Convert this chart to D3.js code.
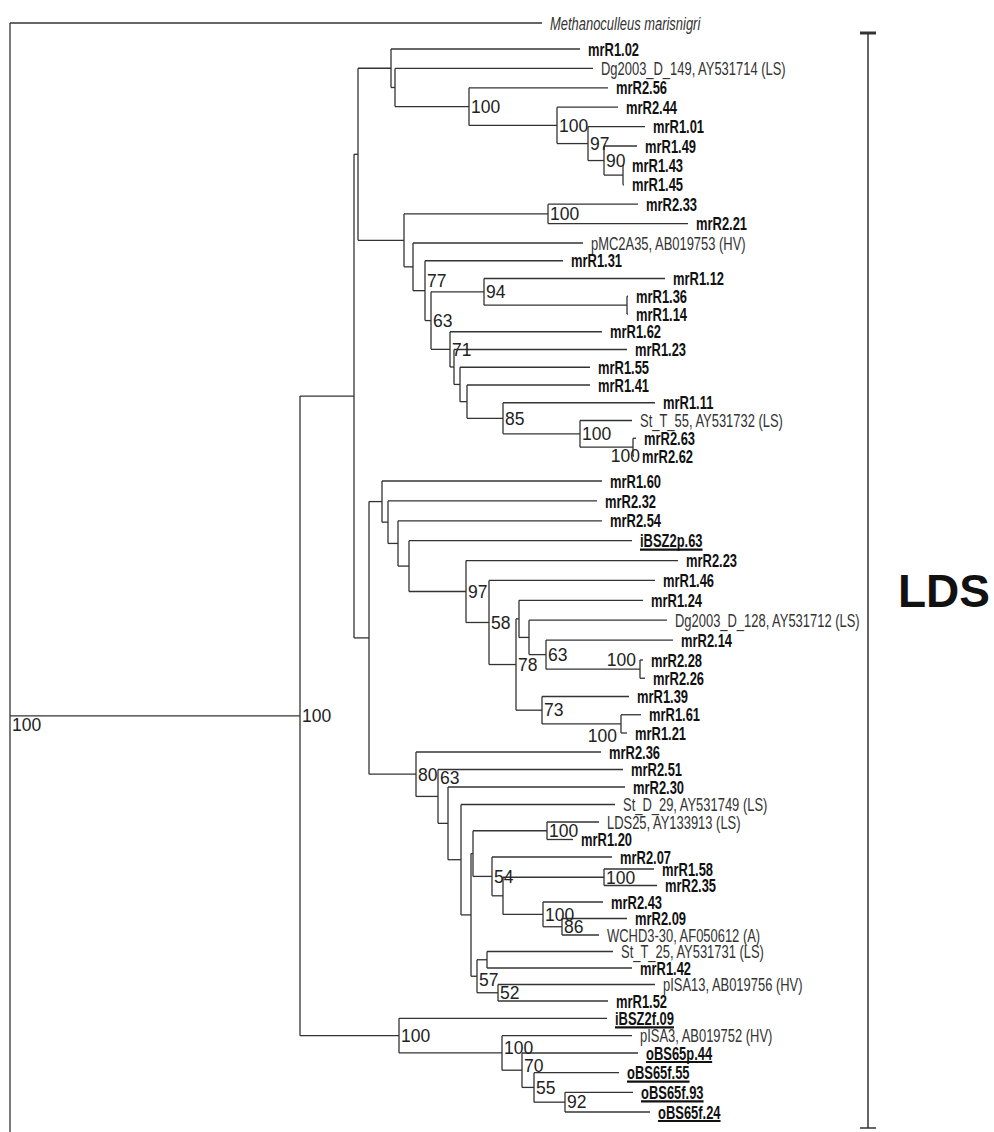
<!DOCTYPE html>
<html>
<head>
<meta charset="utf-8">
<script src="https://cdn.jsdelivr.net/npm/d3@7"></script>
<style>
body { margin: 0; background: #fff; }
svg { display: block; background: #fff; }
</style>
</head>
<body>
<svg id="tree" width="994" height="1132"></svg>
<script>
// tree: topology, branch lengths, bootstrap values (Newick)
const newick = `(
 'Methanoculleus marisnigri':0.532,
 (
  (
   (
    (mrR1.02:0.189,
     ('Dg2003_D_149, AY531714 (LS)':0.198,
      (mrR2.56:0.139,
       (mrR2.44:0.061,
        (mrR1.01:0.057,
         (mrR1.49:0.033,(mrR1.43:0.001,mrR1.45:0.001):0.019)90:0.016
        )97:0.031
       )100:0.088
      )100:0.074
     ):0.004
    ):0.033,
    (
     (mrR2.33:0.090,mrR2.21:0.140)100:0.144,
     ('pMC2A35, AB019753 (HV)':0.170,
      (mrR1.31:0.138,
       (
        (mrR1.12:0.181,(mrR1.36:0.001,mrR1.14:0.001):0.143)94:0.053,
        (mrR1.62:0.152,
         (mrR1.23:0.173,
          (mrR1.55:0.130,
           (mrR1.41:0.123,
            (mrR1.11:0.152,
             ('St_T_55, AY531732 (LS)':0.052,(mrR2.63:0.003,mrR2.62:0.001)100:0.053)100:0.077
            )85:0.036
           ):0.007
          ):0.006
         ):0.004
        )71:0.019
       )63:0.006
      )77:0.012
     ):0.009
    ):0.046
   ):0.004,
   (
    (mrR1.60:0.220,
     (mrR2.32:0.209,
      (mrR2.54:0.204,
       (iBSZ2p.63:0.223,
        (mrR2.23:0.212,
         (mrR1.46:0.166,
          (
           (mrR1.24:0.124,
            ('Dg2003_D_128, AY531712 (LS)':0.138,
             (mrR2.14:0.127,(mrR2.28:0.003,mrR2.26:0.005)100:0.094)63:0.017
            ):0.010
           ):0.003,
           (mrR1.39:0.087,(mrR1.61:0.020,mrR1.21:0.006)100:0.079)73:0.026
          )78:0.027
         )58:0.023
        )97:0.057
       ):0.011
      ):0.010
     ):0.006
    ):0.013,
    (mrR2.36:0.185,
     (mrR2.51:0.185,
      (mrR2.30:0.177,
       ('St_D_29, AY531749 (LS)':0.154,
        (
         (
          ('LDS25, AY133913 (LS)':0.052,mrR1.20:0.026)100:0.074,
          (mrR2.07:0.120,
           (
            (mrR1.58:0.050,mrR2.35:0.053)100:0.101,
            (mrR2.43:0.060,(mrR2.09:0.065,'WCHD3-30, AF050612 (A)':0.037)86:0.019)100:0.040
           ):0.011
          )54:0.019
         ):0.002,
         (
          ('St_T_25, AY531731 (LS)':0.126,mrR1.42:0.145):0.010,
          ('pISA13, AB019756 (HV)':0.157,mrR1.52:0.110)52:0.021
         )57:0.006
        ):0.010
       ):0.013
      ):0.010
     )63:0.022
    )80:0.047
   ):0.015
  ):0.054,
  (iBSZ2f.09:0.208,
   ('pISA3, AB019752 (HV)':0.130,
    (oBS65p.44:0.116,
     (oBS65f.55:0.085,(oBS65f.93:0.068,oBS65f.24:0.085)92:0.031)55:0.012
    )70:0.020
   )100:0.103
  )100:0.099
 )100:0.290,
 '':0.290
)100;`;

// reference sequences (plain type), isolates (underlined), outgroup (italic)
const referenceTaxa = [
    "Dg2003_D_149, AY531714 (LS)", "pMC2A35, AB019753 (HV)", "St_T_55, AY531732 (LS)",
    "Dg2003_D_128, AY531712 (LS)", "St_D_29, AY531749 (LS)", "LDS25, AY133913 (LS)",
    "WCHD3-30, AF050612 (A)", "St_T_25, AY531731 (LS)", "pISA13, AB019756 (HV)",
    "pISA3, AB019752 (HV)"
];
const isolateTaxa = ["iBSZ2p.63", "iBSZ2f.09", "oBS65p.44", "oBS65f.55", "oBS65f.93", "oBS65f.24"];
const outgroupTaxa = ["Methanoculleus marisnigri"];

// cluster bracket
const groupNames = ["LDS"];
const groupFirst = ["mrR1.02"];
const groupLast = ["oBS65f.24"];

// leaf rows are not evenly spaced in the figure: calibration knots
const rowKnots = [0, 1, 11, 23, 24, 33, 37, 38, 44, 45, 53, 56, 59];
const pxKnots = [23, 49, 243, 456, 481, 660, 733, 752, 857, 869, 1001, 1053, 1112];
const croppedRow = 75; // the rest of the tree lies below the picture

// bootstrap labels that are not at their default place
const supportOffsets = {
    "mrR2.63|mrR2.62": { side: "left", dx: 7, dy: 9 },
    "mrR1.61|mrR1.21": { side: "left", dx: -4, dy: 12 },
    "mrR2.28|mrR2.26": { side: "left", dx: -4, dy: -9 },
    "mrR1.31|mrR2.62": { dy: -10 },
    "mrR2.51|mrR1.52": { dy: -19 },
    "St_T_25, AY531731 (LS)|mrR1.52": { dy: 3 },
    "oBS65p.44|oBS65f.24": { dy: -5 },
    "pISA3, AB019752 (HV)|oBS65f.24": { dy: -5 }
};

const width = 994;
const height = 1132;
const font = "'Liberation Sans', Arial, Helvetica, sans-serif";
const condense = 0.70;

function parseNewick(s) {
    let i = 0;
    function readLabel() {
        if (s[i] === "'") {
            const j = s.indexOf("'", i + 1);
            const t = s.slice(i + 1, j);
            i = j + 1;
            return t;
        }
        let t = "";
        while (i < s.length && !",():;".includes(s[i])) t += s[i++];
        return t;
    }
    function readNode() {
        const node = {};
        if (s[i] === "(") {
            node.children = [];
            i++;
            node.children.push(readNode());
            while (s[i] === ",") { i++; node.children.push(readNode()); }
            i++; // closing bracket
        }
        const label = readLabel();
        if (node.children) node.support = label; else node.name = label;
        node.length = 0;
        if (s[i] === ":") {
            i++;
            let t = "";
            while (i < s.length && !",();".includes(s[i])) t += s[i++];
            node.length = +t;
        }
        return node;
    }
    return readNode();
}

// drop whitespace outside quoted names
const clean = newick.replace(/'[^']*'|\s+/g, m => m[0] === "'" ? m : "");
const root = d3.hierarchy(parseNewick(clean));

const xScale = d3.scaleLinear().domain([0, 1]).range([10, 1010]);
const yScale = d3.scaleLinear().domain(rowKnots).range(pxKnots);

// depth along branches, leaf rows, node positions
root.eachBefore(d => { d.dist = d.parent ? d.parent.dist + d.data.length : 0; });
let row = 0;
root.eachBefore(d => {
    if (!d.children) d.row = d.data.name === "" ? croppedRow : row++;
});
root.eachAfter(d => {
    d.px = xScale(d.dist);
    d.py = d.children
        ? (d.children[0].py + d.children[d.children.length - 1].py) / 2
        : yScale(d.row);
});

const svg = d3.select("#tree");

// branches
const branches = svg.append("g")
    .attr("fill", "none")
    .attr("stroke", "#333")
    .attr("stroke-width", 1.3);

branches.selectAll("path.h")
    .data(root.descendants().filter(d => d.parent))
    .join("path")
    .attr("class", "h")
    .attr("d", d => `M${d.parent.px},${d.py}H${d.px}`);

branches.selectAll("path.v")
    .data(root.descendants().filter(d => d.children))
    .join("path")
    .attr("class", "v")
    .attr("d", d => `M${d.px},${d.children[0].py}V${d.children[d.children.length - 1].py}`);

// bootstrap support
const internal = root.descendants().filter(d => d.children && d.data.support);
svg.append("g")
    .selectAll("text")
    .data(internal)
    .join("text")
    .attr("font-family", font)
    .attr("font-size", 17.5)
    .attr("fill", "#222")
    .each(function (d) {
        const leaves = d.leaves();
        const key = leaves[0].data.name + "|" + leaves[leaves.length - 1].data.name;
        const o = supportOffsets[key] || {};
        const left = o.side === "left";
        d3.select(this)
            .attr("x", d.px + (left ? o.dx : 2))
            .attr("y", d.py + (o.dy || 0))
            .attr("dy", "0.36em")
            .attr("text-anchor", left ? "end" : "start")
            .text(d.data.support);
    });

// tip labels
const tips = svg.append("g")
    .selectAll("g")
    .data(root.leaves().filter(d => d.data.name !== ""))
    .join("g")
    .attr("transform", d => `translate(${d.px + 8},${d.py}) scale(${condense},1)`);

tips.append("text")
    .attr("dy", "0.36em")
    .attr("font-family", font)
    .attr("font-size", 18.5)
    .attr("font-weight", d => referenceTaxa.includes(d.data.name) || outgroupTaxa.includes(d.data.name) ? "normal" : "bold")
    .attr("font-style", d => outgroupTaxa.includes(d.data.name) ? "italic" : "normal")
    .attr("fill", d => referenceTaxa.includes(d.data.name) || outgroupTaxa.includes(d.data.name) ? "#333" : "#111")
    .text(d => d.data.name);

tips.filter(d => isolateTaxa.includes(d.data.name))
    .append("line")
    .attr("x1", 0)
    .attr("x2", function () { return this.parentNode.querySelector("text").getComputedTextLength(); })
    .attr("y1", 9)
    .attr("y2", 9)
    .attr("stroke", "#111")
    .attr("stroke-width", 2.2);

// cluster bracket
const leafByName = new Map(root.leaves().map(d => [d.data.name, d]));
const bar = svg.append("g").attr("stroke", "#333");
groupNames.forEach((name, i) => {
    const y0 = leafByName.get(groupFirst[i]).py - 16;
    const y1 = leafByName.get(groupLast[i]).py + 16;
    const bx = 868;
    bar.append("line").attr("x1", bx).attr("x2", bx).attr("y1", y0).attr("y2", y1).attr("stroke-width", 1.5);
    bar.append("line").attr("x1", bx - 8).attr("x2", bx + 8).attr("y1", y0).attr("y2", y0).attr("stroke-width", 3);
    bar.append("line").attr("x1", bx - 8).attr("x2", bx + 8).attr("y1", y1).attr("y2", y1).attr("stroke-width", 1.5);
    svg.append("text")
        .attr("x", bx + 30)
        .attr("y", (y0 + y1) / 2 + 26)
        .attr("font-family", font)
        .attr("font-weight", "bold")
        .attr("font-size", 46)
        .attr("fill", "#111")
        .text(name);
});
</script>
</body>
</html>
